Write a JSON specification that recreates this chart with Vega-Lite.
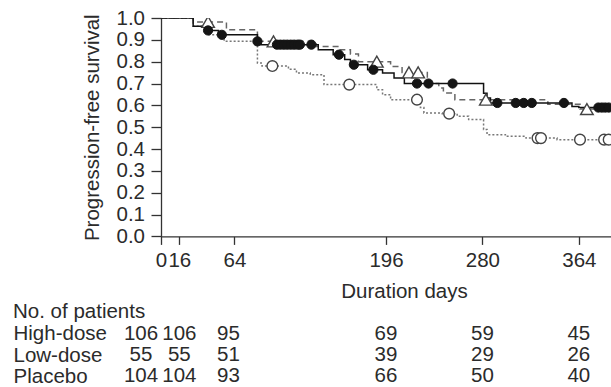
{
  "$schema": "https://vega.github.io/schema/vega-lite/v6.json",
  "padding": {"left": 13, "top": 8, "right": 0, "bottom": 0},
  "spacing": 0,
  "config": {
    "view": {"stroke": null},
    "font": "Liberation Sans",
    "axis": {"grid": false, "labelOverlap": false, "labelFlush": false, "labelFont": "Liberation Sans", "titleFont": "Liberation Sans", "labelFontSize": 20.5, "titleFontSize": 20.5, "titleFontWeight": "normal", "labelColor": "#2b2b2b", "titleColor": "#2b2b2b", "domainColor": "#333333", "tickColor": "#333333", "domainWidth": 1.3, "tickWidth": 1.3}
  },
  "datasets": {
    "curves": [
      {"group": "Placebo", "day": 0, "s": 1.0},
      {"group": "Placebo", "day": 28, "s": 0.962},
      {"group": "Placebo", "day": 40, "s": 0.923},
      {"group": "Placebo", "day": 55, "s": 0.893},
      {"group": "Placebo", "day": 84, "s": 0.794},
      {"group": "Placebo", "day": 88, "s": 0.78},
      {"group": "Placebo", "day": 111, "s": 0.765},
      {"group": "Placebo", "day": 118, "s": 0.748},
      {"group": "Placebo", "day": 130, "s": 0.74},
      {"group": "Placebo", "day": 142, "s": 0.695},
      {"group": "Placebo", "day": 188, "s": 0.672},
      {"group": "Placebo", "day": 193, "s": 0.649},
      {"group": "Placebo", "day": 200, "s": 0.626},
      {"group": "Placebo", "day": 226, "s": 0.59},
      {"group": "Placebo", "day": 229, "s": 0.565},
      {"group": "Placebo", "day": 245, "s": 0.562},
      {"group": "Placebo", "day": 258, "s": 0.55},
      {"group": "Placebo", "day": 268, "s": 0.535},
      {"group": "Placebo", "day": 281, "s": 0.49},
      {"group": "Placebo", "day": 284, "s": 0.466},
      {"group": "Placebo", "day": 300, "s": 0.458},
      {"group": "Placebo", "day": 318, "s": 0.45},
      {"group": "Placebo", "day": 345, "s": 0.443},
      {"group": "Placebo", "day": 392, "s": 0.443},
      {"group": "Low-dose", "day": 0, "s": 1.0},
      {"group": "Low-dose", "day": 28, "s": 0.982},
      {"group": "Low-dose", "day": 57, "s": 0.946},
      {"group": "Low-dose", "day": 84, "s": 0.893},
      {"group": "Low-dose", "day": 135, "s": 0.87},
      {"group": "Low-dose", "day": 155, "s": 0.855},
      {"group": "Low-dose", "day": 165, "s": 0.835},
      {"group": "Low-dose", "day": 172, "s": 0.8},
      {"group": "Low-dose", "day": 200, "s": 0.778},
      {"group": "Low-dose", "day": 210, "s": 0.751},
      {"group": "Low-dose", "day": 232, "s": 0.7},
      {"group": "Low-dose", "day": 242, "s": 0.68},
      {"group": "Low-dose", "day": 246, "s": 0.657},
      {"group": "Low-dose", "day": 256, "s": 0.626},
      {"group": "Low-dose", "day": 337, "s": 0.605},
      {"group": "Low-dose", "day": 365, "s": 0.583},
      {"group": "Low-dose", "day": 392, "s": 0.583},
      {"group": "High-dose", "day": 0, "s": 1.0},
      {"group": "High-dose", "day": 28, "s": 0.962},
      {"group": "High-dose", "day": 38, "s": 0.943},
      {"group": "High-dose", "day": 50, "s": 0.923},
      {"group": "High-dose", "day": 84, "s": 0.893},
      {"group": "High-dose", "day": 87, "s": 0.878},
      {"group": "High-dose", "day": 137, "s": 0.855},
      {"group": "High-dose", "day": 150, "s": 0.832},
      {"group": "High-dose", "day": 160, "s": 0.81},
      {"group": "High-dose", "day": 165, "s": 0.786},
      {"group": "High-dose", "day": 180, "s": 0.763},
      {"group": "High-dose", "day": 193, "s": 0.748},
      {"group": "High-dose", "day": 203, "s": 0.725},
      {"group": "High-dose", "day": 212, "s": 0.7},
      {"group": "High-dose", "day": 281, "s": 0.655},
      {"group": "High-dose", "day": 284, "s": 0.634},
      {"group": "High-dose", "day": 287, "s": 0.611},
      {"group": "High-dose", "day": 358, "s": 0.595},
      {"group": "High-dose", "day": 364, "s": 0.59},
      {"group": "High-dose", "day": 392, "s": 0.59}
    ],
    "censor": [
      {"group": "Placebo", "day": 97, "s": 0.78},
      {"group": "Placebo", "day": 164, "s": 0.695},
      {"group": "Placebo", "day": 223, "s": 0.626},
      {"group": "Placebo", "day": 251, "s": 0.562},
      {"group": "Placebo", "day": 328, "s": 0.45},
      {"group": "Placebo", "day": 331, "s": 0.45},
      {"group": "Placebo", "day": 365, "s": 0.443},
      {"group": "Placebo", "day": 386, "s": 0.443},
      {"group": "Placebo", "day": 390, "s": 0.443},
      {"group": "Low-dose", "day": 41, "s": 0.982},
      {"group": "Low-dose", "day": 98, "s": 0.893},
      {"group": "Low-dose", "day": 188, "s": 0.8},
      {"group": "Low-dose", "day": 216, "s": 0.751},
      {"group": "Low-dose", "day": 224, "s": 0.751},
      {"group": "Low-dose", "day": 283, "s": 0.626},
      {"group": "Low-dose", "day": 371, "s": 0.583},
      {"group": "High-dose", "day": 41, "s": 0.943},
      {"group": "High-dose", "day": 53, "s": 0.923},
      {"group": "High-dose", "day": 84, "s": 0.893},
      {"group": "High-dose", "day": 101, "s": 0.878},
      {"group": "High-dose", "day": 104, "s": 0.878},
      {"group": "High-dose", "day": 107, "s": 0.878},
      {"group": "High-dose", "day": 110, "s": 0.878},
      {"group": "High-dose", "day": 113, "s": 0.878},
      {"group": "High-dose", "day": 116, "s": 0.878},
      {"group": "High-dose", "day": 119, "s": 0.878},
      {"group": "High-dose", "day": 121, "s": 0.878},
      {"group": "High-dose", "day": 131, "s": 0.878},
      {"group": "High-dose", "day": 155, "s": 0.832},
      {"group": "High-dose", "day": 168, "s": 0.786},
      {"group": "High-dose", "day": 185, "s": 0.763},
      {"group": "High-dose", "day": 223, "s": 0.7},
      {"group": "High-dose", "day": 233, "s": 0.7},
      {"group": "High-dose", "day": 254, "s": 0.7},
      {"group": "High-dose", "day": 293, "s": 0.611},
      {"group": "High-dose", "day": 309, "s": 0.611},
      {"group": "High-dose", "day": 316, "s": 0.611},
      {"group": "High-dose", "day": 323, "s": 0.611},
      {"group": "High-dose", "day": 351, "s": 0.611},
      {"group": "High-dose", "day": 381, "s": 0.59},
      {"group": "High-dose", "day": 384, "s": 0.59},
      {"group": "High-dose", "day": 387, "s": 0.59},
      {"group": "High-dose", "day": 390, "s": 0.59}
    ],
    "risk": [
      {"group": "High-dose", "day": 0, "n": 106},
      {"group": "High-dose", "day": 16, "n": 106},
      {"group": "High-dose", "day": 64, "n": 95},
      {"group": "High-dose", "day": 196, "n": 69},
      {"group": "High-dose", "day": 280, "n": 59},
      {"group": "High-dose", "day": 364, "n": 45},
      {"group": "Low-dose", "day": 0, "n": 55},
      {"group": "Low-dose", "day": 16, "n": 55},
      {"group": "Low-dose", "day": 64, "n": 51},
      {"group": "Low-dose", "day": 196, "n": 39},
      {"group": "Low-dose", "day": 280, "n": 29},
      {"group": "Low-dose", "day": 364, "n": 26},
      {"group": "Placebo", "day": 0, "n": 104},
      {"group": "Placebo", "day": 16, "n": 104},
      {"group": "Placebo", "day": 64, "n": 93},
      {"group": "Placebo", "day": 196, "n": 66},
      {"group": "Placebo", "day": 280, "n": 50},
      {"group": "Placebo", "day": 364, "n": 40}
    ]
  },
  "vconcat": [
    {
      "width": 450,
      "height": 218.4,
      "encoding": {
        "x": {"field": "day", "type": "quantitative", "scale": {"domain": [0, 392], "nice": false, "zero": false},
              "axis": {"values": [0, 16, 64, 196, 280, 364], "title": "Duration days", "tickSize": 8, "labelPadding": 6.5, "titlePadding": 10, "labelOverlap": false, "labelFlush": false, "titleX": 243,
                       "encode": {"labels": {"update": {"dx": {"signal": "datum.value === 0 ? -1 : datum.value === 16 ? 3 : 0"}}}}}},
        "y": {"field": "s", "type": "quantitative", "scale": {"domain": [0, 1], "nice": false},
              "axis": {"values": [0, 0.1, 0.2, 0.3, 0.4, 0.5, 0.6, 0.7, 0.8, 0.9, 1], "tickCount": 11, "format": ".1f", "title": "Progression-free survival", "tickSize": 10, "labelPadding": 6.5, "titlePadding": 14, "labelOverlap": false, "labelFlush": false}}
      },
      "layer": [
        {
          "data": {"name": "curves"},
          "mark": {"type": "line", "interpolate": "step-after", "strokeWidth": 1.5, "clip": true},
          "encoding": {
            "detail": {"field": "group"},
            "color": {"field": "group", "type": "nominal", "legend": null,
                      "scale": {"domain": ["High-dose", "Low-dose", "Placebo"], "range": ["#111111", "#666666", "#777777"]}},
            "strokeDash": {"field": "group", "type": "nominal", "legend": null,
                           "scale": {"domain": ["High-dose", "Low-dose", "Placebo"], "range": [[1, 0], [6, 4], [2, 2]]}}
          }
        },
        {
          "data": {"name": "censor"},
          "transform": [{"filter": "datum.group === 'Placebo'"}],
          "mark": {"type": "point", "shape": "circle", "filled": false, "fill": "white", "stroke": "#444444", "strokeWidth": 1.4, "size": 115, "opacity": 1, "clip": true},
          "encoding": {}
        },
        {
          "data": {"name": "censor"},
          "transform": [{"filter": "datum.group === 'Low-dose'"}],
          "mark": {"type": "point", "shape": "triangle-up", "filled": false, "fill": "white", "stroke": "#444444", "strokeWidth": 1.4, "size": 160, "opacity": 1, "clip": true},
          "encoding": {}
        },
        {
          "data": {"name": "censor"},
          "transform": [{"filter": "datum.group === 'High-dose'"}],
          "mark": {"type": "point", "shape": "circle", "filled": true, "fill": "#151515", "stroke": "#151515", "strokeWidth": 1, "size": 85, "opacity": 1, "clip": true},
          "encoding": {}
        }
      ]
    },
    {
      "width": 450,
      "height": 60,
      "title": {"text": "No. of patients", "anchor": "start", "frame": "bounds", "offset": 1, "fontSize": 20.5, "fontWeight": "normal", "color": "#2b2b2b", "font": "Liberation Sans"},
      "data": {"name": "risk"},
      "encoding": {
        "x": {"field": "day", "type": "quantitative", "scale": {"domain": [0, 392], "nice": false, "zero": false}, "axis": null},
        "y": {"field": "group", "type": "nominal", "sort": ["High-dose", "Low-dose", "Placebo"], "scale": {"padding": 0.402},
              "axis": {"title": null, "labelAlign": "left", "labelPadding": 148, "ticks": false, "tickSize": 0, "domain": false, "labelFontSize": 20.5, "labelColor": "#2b2b2b"}},
        "text": {"field": "n", "type": "quantitative"}
      },
      "layer": [
        {
          "transform": [{"filter": "datum.day !== 0 && datum.day !== 64"}],
          "mark": {"type": "text", "fontSize": 20.5, "color": "#2b2b2b", "align": "center", "baseline": "middle"}
        },
        {
          "transform": [{"filter": "datum.day === 0"}],
          "mark": {"type": "text", "fontSize": 20.5, "color": "#2b2b2b", "align": "center", "baseline": "middle", "dx": -20}
        },
        {
          "transform": [{"filter": "datum.day === 64"}],
          "mark": {"type": "text", "fontSize": 20.5, "color": "#2b2b2b", "align": "center", "baseline": "middle", "dx": -6}
        }
      ]
    }
  ]
}
